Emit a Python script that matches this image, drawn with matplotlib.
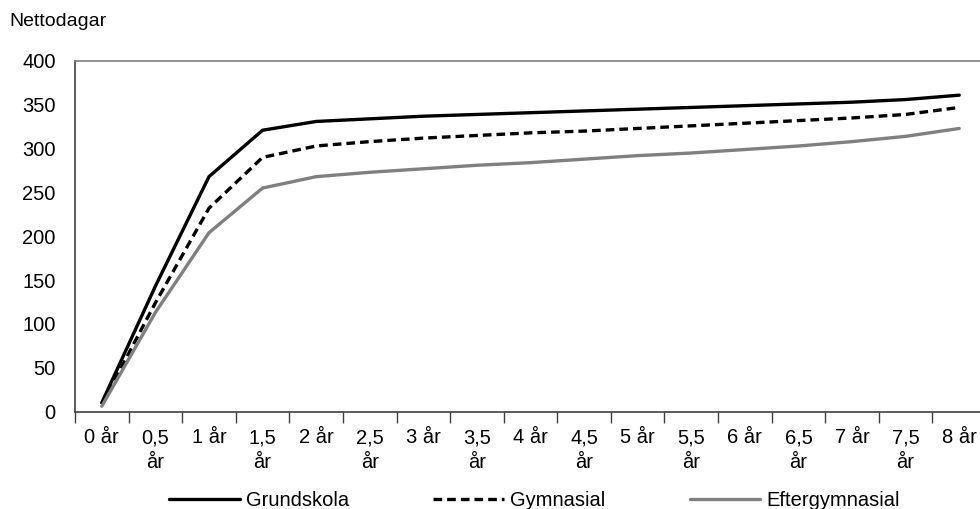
import matplotlib.pyplot as plt
import numpy as np

plt.rcParams['font.family'] = ['Liberation Sans', 'DejaVu Sans']

# Kategorier (halvår)
kategorier = ["0 år", "0,5\når", "1 år", "1,5\når", "2 år", "2,5\når", "3 år", "3,5\når",
              "4 år", "4,5\når", "5 år", "5,5\når", "6 år", "6,5\når", "7 år", "7,5\når", "8 år"]

grundskola = [10, 143, 268, 321, 331, 334, 337, 339, 341, 343, 345, 347, 349, 351, 353, 356, 361]
gymnasial = [8, 124, 232, 290, 303, 308, 312, 315, 318, 320, 323, 326, 329, 332, 335, 339, 347]
eftergymnasial = [6, 113, 204, 255, 268, 273, 277, 281, 284, 288, 292, 295, 299, 303, 308, 314, 323]

fig = plt.figure(figsize=(9.8, 5.09), dpi=100)
ax = fig.add_axes([75 / 980, 1 - 411.5 / 509, 911 / 980, (411.5 - 61) / 509])

x = np.arange(len(kategorier))
ax.plot(x, grundskola, color="black", lw=2.4, label="Grundskola", solid_capstyle="round")
ax.plot(x, gymnasial, color="black", lw=2.4, dashes=(2.6, 1.5), label="Gymnasial")
ax.plot(x, eftergymnasial, color="#808080", lw=2.4, label="Eftergymnasial", solid_capstyle="round")

ax.set_xlim(-0.5, len(kategorier) - 0.5)
ax.set_ylim(0, 400)
ax.set_yticks(range(0, 401, 50))
ax.set_xticks(x)
ax.set_xticklabels(kategorier, fontsize=14.5, va="top", linespacing=1.4)
ax.set_xticks(np.arange(-0.5, len(kategorier), 1), minor=True)
ax.tick_params(axis="x", which="major", length=0, pad=12)
ax.tick_params(axis="x", which="minor", length=8, width=1, color="#404040")
ax.tick_params(axis="y", length=0, pad=14, labelsize=14.5)

ax.spines["right"].set_visible(False)
ax.spines["top"].set_color("#808080")
ax.spines["top"].set_linewidth(1.2)
ax.spines["left"].set_color("#404040")
ax.spines["bottom"].set_color("#404040")
ax.spines["left"].set_linewidth(1.2)
ax.spines["bottom"].set_linewidth(1.2)

fig.text(9 / 980, 1 - 22 / 509, "Nettodagar", fontsize=14, va="center", ha="left")

ax.legend(loc="center", bbox_to_anchor=(0.5 + 4 / 911, -0.255), ncol=3, frameon=False,
          fontsize=14.5, handlelength=3.5, handletextpad=0.3, columnspacing=4.2)

fig.savefig("out.png", dpi=100)
